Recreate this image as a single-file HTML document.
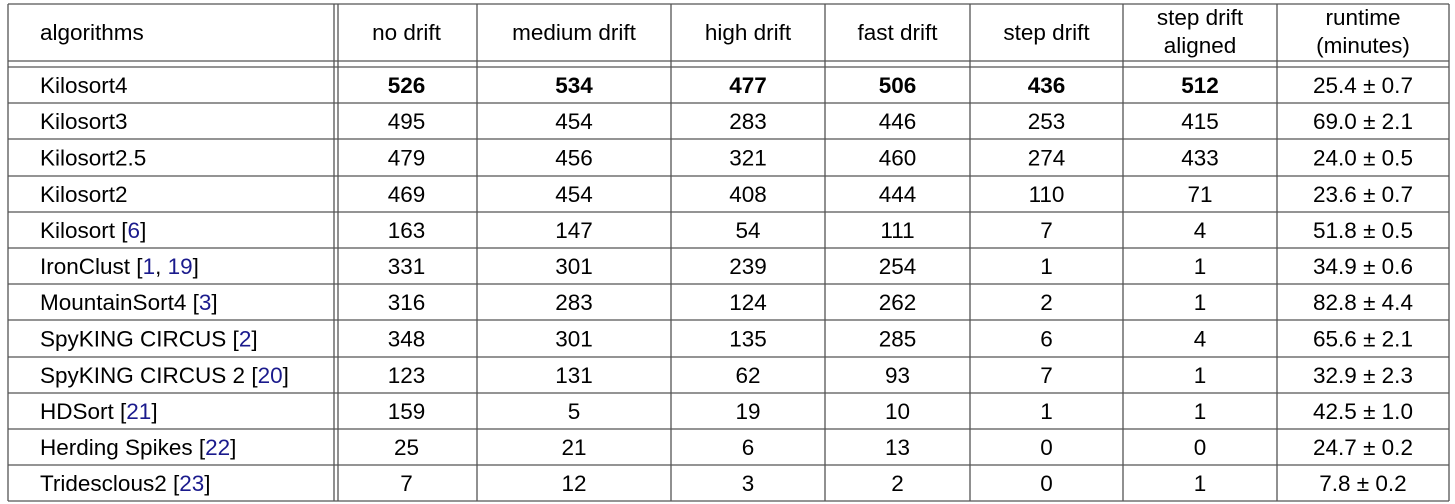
<!DOCTYPE html>
<html><head><meta charset="utf-8">
<style>
html,body{margin:0;padding:0;background:#fff;}
svg{display:block;font-family:"Liberation Sans",Arial,sans-serif;}
</style></head>
<body>
<svg id="tbl" width="1455" height="504" viewBox="0 0 1455 504"></svg>
<script>
const headers=["algorithms","no drift","medium drift","high drift","fast drift","step drift","step drift|aligned","runtime|(minutes)"];
const names=[["Kilosort4",[]],["Kilosort3",[]],["Kilosort2.5",[]],["Kilosort2",[]],["Kilosort ",["6"]],["IronClust ",["1","19"]],["MountainSort4 ",["3"]],["SpyKING CIRCUS ",["2"]],["SpyKING CIRCUS 2 ",["20"]],["HDSort ",["21"]],["Herding Spikes ",["22"]],["Tridesclous2 ",["23"]]];
const noDrift=[526,495,479,469,163,331,316,348,123,159,25,7];
const medDrift=[534,454,456,454,147,301,283,301,131,5,21,12];
const highDrift=[477,283,321,408,54,239,124,135,62,19,6,3];
const fastDrift=[506,446,460,444,111,254,262,285,93,10,13,2];
const stepDrift=[436,253,274,110,7,1,2,6,7,1,0,0];
const stepAligned=[512,415,433,71,4,1,1,4,1,1,0,1];
const runtime=["25.4 \u00b1 0.7","69.0 \u00b1 2.1","24.0 \u00b1 0.5","23.6 \u00b1 0.7","51.8 \u00b1 0.5","34.9 \u00b1 0.6","82.8 \u00b1 4.4","65.6 \u00b1 2.1","32.9 \u00b1 2.3","42.5 \u00b1 1.0","24.7 \u00b1 0.2","7.8 \u00b1 0.2"];

const svg=document.getElementById('tbl');
const NS="http://www.w3.org/2000/svg";
const colX=[8,336,477,671,825,970,1123,1277,1449];
const rowY=[4,67,103,139,176,212,248,284,320,357,393,429,465,501];
const stroke="#555";
function line(x1,y1,x2,y2,name){
  const l=document.createElementNS(NS,'line');
  l.setAttribute('x1',x1);l.setAttribute('y1',y1);l.setAttribute('x2',x2);l.setAttribute('y2',y2);
  l.setAttribute('stroke',stroke);l.setAttribute('stroke-width','1.3');
  
  
  svg.appendChild(l);
}
line(8,4,1449,4,'top-border');
line(8,61,1449,61,'header-rule-upper');
rowY.slice(1).forEach((y,i)=>{line(8,y,1449,y,'row-rule');});
line(8,4,8,501,'left-border');
line(334,4,334,501,'double-rule-left');
line(338,4,338,501,'double-rule-right');
colX.slice(2).forEach(x=>line(x,4,x,501,'column-rule'));

function text(x,y,str,anchor,bold,name){
  const t=document.createElementNS(NS,'text');
  t.setAttribute('x',x);t.setAttribute('y',y);
  t.setAttribute('text-anchor',anchor);
  t.setAttribute('font-size','22.5');
  t.setAttribute('fill','#000');
  if(bold)t.setAttribute('font-weight','bold');
  t.textContent=str;
  
  
  svg.appendChild(t);return t;
}
headers.forEach((h,i)=>{
  const parts=h.split('|');
  const cx=i===0?40:(colX[i]+colX[i+1])/2;
  const anchor=i===0?'start':'middle';
  if(parts.length===1) text(cx,40,parts[0],anchor,false,'header-'+i);
  else {text(cx,25,parts[0],anchor,false,'header-'+i+'-line1');text(cx,53,parts[1],anchor,false,'header-'+i+'-line2');}
});
const cols=[noDrift,medDrift,highDrift,fastDrift,stepDrift,stepAligned,runtime];
names.forEach((n,r)=>{
  const y=(rowY[r+1]+rowY[r+2])/2+8;
  const t=text(40,y,n[0],'start',false,'algorithm-name');
  if(n[1].length){
    const add=(s,c)=>{const ts=document.createElementNS(NS,'tspan');ts.textContent=s;if(c)ts.setAttribute('fill',c);t.appendChild(ts);};
    add('[');
    n[1].forEach((c,k)=>{if(k)add(', ');add(c,'#1a1a8c');});
    add(']');
  }
  cols.forEach((col,c)=>{
    const cx=(colX[c+1]+colX[c+2])/2;
    text(cx,y,String(col[r]),'middle',r===0&&c<6,'cell-value');
  });
});
</script>
</body></html>
